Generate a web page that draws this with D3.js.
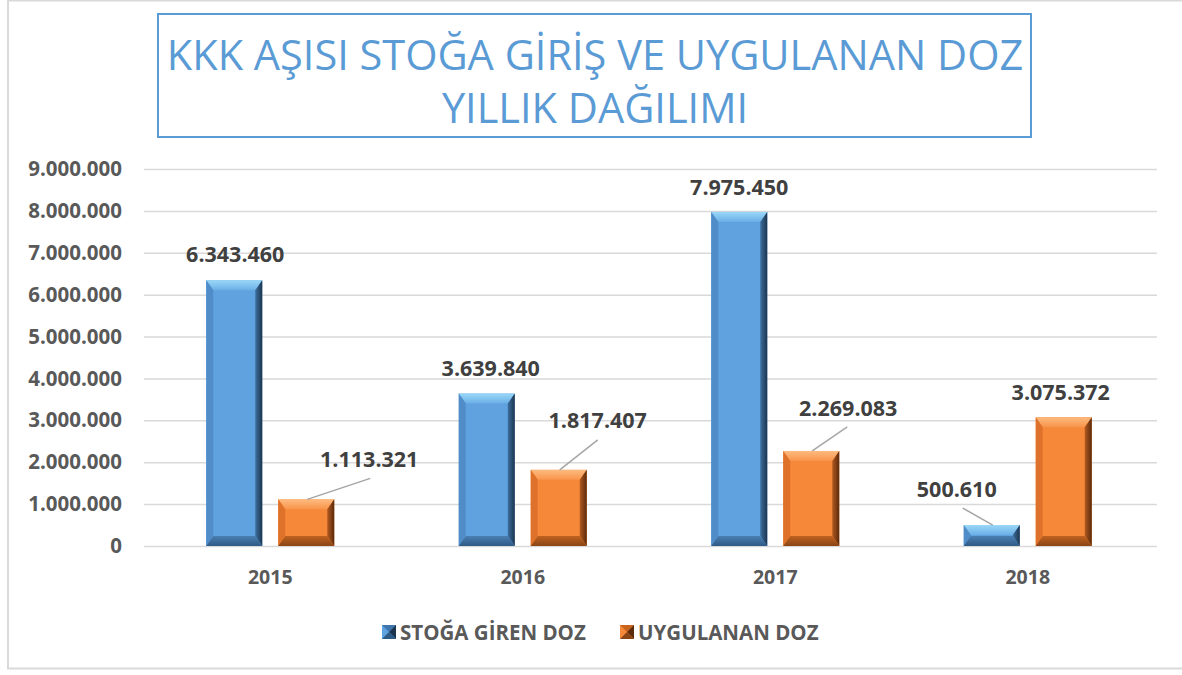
<!DOCTYPE html>
<html>
<head>
<meta charset="utf-8">
<script src="https://cdn.jsdelivr.net/npm/d3@7"></script>
<style>
  html, body { margin: 0; padding: 0; background: #fff; }
  svg { display: block; }
  text { font-family: "Open Sans", "Noto Sans", sans-serif; }
</style>
</head>
<body>
<svg id="chart"></svg>
<script>
// chart data
const years = ['2015', '2016', '2017', '2018'];
const seriesNames = ['STOĞA GİREN DOZ', 'UYGULANAN DOZ'];
const stockIn = [6343460, 3639840, 7975450, 500610];
const applied = [1113321, 1817407, 2269083, 3075372];
const yTicks = [0, 1000000, 2000000, 3000000, 4000000, 5000000, 6000000, 7000000, 8000000, 9000000];
const titleLines = ['KKK AŞISI STOĞA GİRİŞ VE UYGULANAN DOZ', 'YILLIK DAĞILIMI'];

// label placement (offset from top centre of the bar), leader = callout line end
const labelOffsets = [
    [{dx: 1, dy: -18}, {dx: 63, dy: -32, leader: [64, -21]}],
    [{dx: 4, dy: -18}, {dx: 39, dy: -42, leader: [39, -30]}],
    [{dx: 0, dy: -17}, {dx: 37, dy: -35, leader: [36, -24]}],
    [{dx: -35, dy: -28, leader: [-29, -17]}, {dx: -3, dy: -17}]
];

const width = 1182, height = 675;
const svg = d3.select('#chart').attr('width', width).attr('height', height);

const fmt = d3.formatLocale({decimal: ',', thousands: '.', grouping: [3], currency: ['', '']}).format(',d');

// palettes for the bevelled bars
const palettes = [
    {id: 'b', face: '#5fa2df', top: ['#9ad8f8', '#6aaee6'], left: '#4f8cc8', right: ['#3d6f9f', '#1c344e'], bottom: ['#4a7fb3', '#2f5a85'], leg: '#3f76ad'},
    {id: 'o', face: '#f6883a', top: ['#fdbb80', '#f8944a'], left: '#df722a', right: ['#b35a1f', '#5a2a0c'], bottom: ['#c0621f', '#8a4416'], leg: '#c9641f'}
];

const defs = svg.append('defs');
palettes.forEach(p => {
    const grad = (name, c, x2, y2) => {
        const lg = defs.append('linearGradient').attr('id', p.id + name)
            .attr('x1', 0).attr('y1', 0).attr('x2', x2).attr('y2', y2);
        lg.append('stop').attr('offset', 0).attr('stop-color', c[0]);
        lg.append('stop').attr('offset', 1).attr('stop-color', c[1]);
    };
    grad('top', p.top, 0, 1);
    grad('right', p.right, 1, 0);
    grad('bottom', p.bottom, 0, 1);
});

// outer frame
svg.append('rect')
    .attr('x', 8).attr('y', 0.5)
    .attr('width', width + 10).attr('height', 668)
    .attr('fill', 'none').attr('stroke', '#d9d9d9').attr('stroke-width', 2);

// title box
svg.append('rect')
    .attr('x', 158).attr('y', 14).attr('width', 873).attr('height', 123)
    .attr('fill', '#fff').attr('stroke', '#5b9bd5').attr('stroke-width', 2);

svg.selectAll('.title')
    .data(titleLines)
    .enter().append('text')
    .attr('class', 'title')
    .attr('x', 595)
    .attr('y', (d, i) => 70 + i * 53)
    .attr('text-anchor', 'middle')
    .attr('fill', '#5b9bd5')
    .style('font-size', '41.5px')
    .text(d => d);

// scales
const x0 = d3.scaleBand().domain(years).range([144, 1154]);
const x1 = d3.scaleBand().domain(seriesNames).range([-64, 64]).paddingInner(0.222);
const y = d3.scaleLinear().domain([0, 9000000]).range([546, 169]);

// gridlines
svg.append('g')
    .attr('transform', 'translate(144,0)')
    .call(d3.axisLeft(y).tickValues(yTicks).tickSize(-1013).tickFormat(''))
    .call(g => g.select('.domain').remove())
    .selectAll('.tick line')
    .attr('stroke', '#d9d9d9').attr('stroke-width', 1.5);

// y labels
svg.append('g')
    .attr('transform', 'translate(122,0)')
    .call(d3.axisLeft(y).tickValues(yTicks).tickSize(0).tickPadding(0).tickFormat(fmt))
    .call(g => g.select('.domain').remove())
    .selectAll('text')
    .attr('fill', '#595959')
    .style('font-family', '"Open Sans", sans-serif')
    .style('font-size', '20.5px')
    .style('font-weight', 700);

// x labels
svg.append('g')
    .attr('transform', 'translate(0,546)')
    .call(d3.axisBottom(x0).tickSize(0).tickPadding(24))
    .call(g => g.select('.domain').remove())
    .selectAll('text')
    .attr('fill', '#595959')
    .style('font-family', '"Open Sans", sans-serif')
    .style('font-size', '19.5px')
    .style('font-weight', 700);

// bevelled bar
function bevelBar(g, bx, by, bw, bh, p) {
    const t = Math.min(10, bh / 2), s = 7;
    g.append('rect').attr('x', bx).attr('y', by).attr('width', bw).attr('height', bh).attr('fill', p.face);
    const poly = (pts, fill) => g.append('polygon').attr('points', pts.map(q => q.join(',')).join(' ')).attr('fill', fill);
    poly([[bx, by], [bx + bw, by], [bx + bw - s, by + t], [bx + s, by + t]], `url(#${p.id}top)`);
    poly([[bx, by], [bx + s, by + t], [bx + s, by + bh - t], [bx, by + bh]], p.left);
    poly([[bx + bw, by], [bx + bw, by + bh], [bx + bw - s, by + bh - t], [bx + bw - s, by + t]], `url(#${p.id}right)`);
    poly([[bx, by + bh], [bx + s, by + bh - t], [bx + bw - s, by + bh - t], [bx + bw, by + bh]], `url(#${p.id}bottom)`);
}

const rows = years.map((yr, i) => ({year: yr, values: [stockIn[i], applied[i]], offsets: labelOffsets[i]}));

const groups = svg.selectAll('.year')
    .data(rows)
    .enter().append('g')
    .attr('class', 'year')
    .attr('transform', d => `translate(${x0(d.year) + x0.bandwidth() / 2},0)`);

groups.each(function (d) {
    const g = d3.select(this);
    d.values.forEach((v, si) => {
        const bx = x1(seriesNames[si]);
        const bw = x1.bandwidth();
        const top = y(v);
        bevelBar(g.append('g'), bx, top, bw, y(0) - top, palettes[si]);
        const cx = bx + bw / 2;
        const off = d.offsets[si];
        if (off.leader) {
            g.append('line')
                .attr('x1', cx + 1).attr('y1', top)
                .attr('x2', cx + off.leader[0]).attr('y2', top + off.leader[1])
                .attr('stroke', '#a6a6a6').attr('stroke-width', 1.5);
        }
        g.append('text')
            .attr('x', cx + off.dx)
            .attr('y', top + off.dy)
            .attr('text-anchor', 'middle')
            .attr('fill', '#404040')
            .style('font-size', '21.5px')
            .style('font-weight', 700)
            .text(fmt(v));
    });
});

// legend
const legendX = [382, 620];
const legend = svg.selectAll('.legend')
    .data(seriesNames)
    .enter().append('g')
    .attr('class', 'legend')
    .attr('transform', (d, i) => `translate(${legendX[i]},625)`);

legend.each(function (d, i) {
    const g = d3.select(this), p = palettes[i], s = 14;
    g.append('rect').attr('width', s).attr('height', s).attr('fill', p.face);
    g.append('polygon').attr('points', `0,0 ${s},0 ${s / 2},${s / 2}`).attr('fill', p.leg);
    g.append('polygon').attr('points', `${s},0 ${s},${s} ${s / 2},${s / 2}`).attr('fill', p.right[1]);
    g.append('polygon').attr('points', `0,${s} ${s},${s} ${s / 2},${s / 2}`).attr('fill', p.bottom[1]);
    g.append('text')
        .attr('x', 18).attr('y', 14.5)
        .attr('fill', '#595959')
        .style('font-size', '20.5px')
        .style('font-weight', 700)
        .text(d);
});
</script>
</body>
</html>
